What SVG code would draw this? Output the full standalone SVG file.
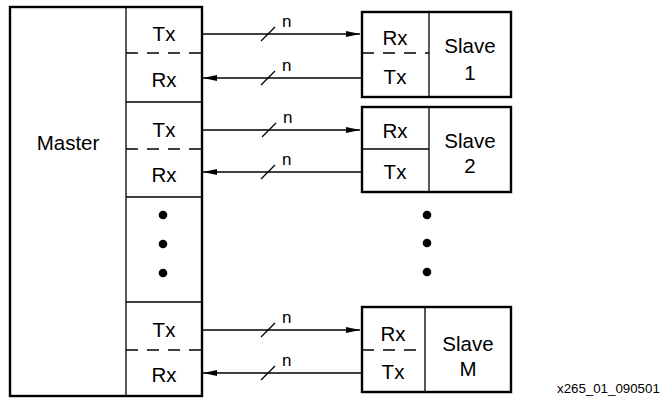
<svg xmlns="http://www.w3.org/2000/svg" width="660" height="398" viewBox="0 0 660 398">
<style>
.box{fill:#fff;stroke:#000;stroke-width:2.4}
.ln{stroke:#000;stroke-width:1.3;fill:none}
.dash{stroke:#000;stroke-width:1.3;stroke-dasharray:12 9;fill:none}
.conn{stroke:#000;stroke-width:1.3;fill:none}
text{font-family:"Liberation Sans",Arial,sans-serif;font-size:20.5px;fill:#000;text-anchor:middle}
.n{font-size:17px;text-anchor:start}
.cap{font-size:13.3px;text-anchor:start}
</style>
<defs>
<marker id="ah" viewBox="0 0 14 6" refX="14" refY="3" markerWidth="14" markerHeight="6" markerUnits="userSpaceOnUse" orient="auto">
<path d="M0,0 L14,3 L0,6 Z" fill="#000"/>
</marker>
</defs>
<g id="master">
<rect class="box" x="10" y="7" width="192" height="389"/>
<line class="ln" x1="126" y1="7" x2="126" y2="396"/>
<line class="dash" x1="126" y1="53" x2="202" y2="53"/>
<line class="ln" x1="126" y1="102" x2="202" y2="102"/>
<line class="dash" x1="126" y1="149" x2="202" y2="149"/>
<line class="ln" x1="126" y1="197" x2="202" y2="197"/>
<line class="ln" x1="126" y1="302" x2="202" y2="302"/>
<line class="dash" x1="126" y1="350" x2="202" y2="350"/>
<text x="68" y="149.5">Master</text>
<text x="164" y="40.5">Tx</text>
<text x="164" y="86.5">Rx</text>
<text x="164" y="136.5">Tx</text>
<text x="164" y="181.5">Rx</text>
<text x="164" y="336.5">Tx</text>
<text x="164" y="381.5">Rx</text>
<circle cx="163" cy="215" r="4.3"/>
<circle cx="163" cy="244" r="4.3"/>
<circle cx="163" cy="273" r="4.3"/>
</g>
<g id="slave1">
<rect class="box" x="362" y="12" width="149" height="85"/>
<line class="ln" x1="429" y1="12" x2="429" y2="97"/>
<line class="dash" x1="362" y1="53" x2="429" y2="53"/>
<text x="395" y="44.5">Rx</text>
<text x="395" y="83.5">Tx</text>
<text x="470" y="52.5">Slave</text>
<text x="470" y="79.5">1</text>
</g>
<g id="slave2">
<rect class="box" x="362" y="107" width="149" height="85"/>
<line class="ln" x1="429" y1="107" x2="429" y2="192"/>
<line class="ln" x1="362" y1="149" x2="429" y2="149"/>
<text x="395" y="137.5">Rx</text>
<text x="395" y="178.5">Tx</text>
<text x="470" y="147.5">Slave</text>
<text x="470" y="172.5">2</text>
</g>
<g id="dots">
<circle cx="427" cy="215" r="4.3"/>
<circle cx="427" cy="243" r="4.3"/>
<circle cx="427" cy="272" r="4.3"/>
</g>
<g id="slaveM">
<rect class="box" x="362" y="307" width="149" height="85"/>
<line class="ln" x1="425" y1="307" x2="425" y2="392"/>
<line class="dash" x1="362" y1="350" x2="425" y2="350"/>
<text x="393" y="340.5">Rx</text>
<text x="393" y="378.5">Tx</text>
<text x="468" y="350.5">Slave</text>
<text x="468" y="375.5">M</text>
</g>
<g id="connectors">
<line class="conn" x1="202" y1="34" x2="360" y2="34" marker-end="url(#ah)"/>
<line class="conn" x1="362" y1="78" x2="203" y2="78" marker-end="url(#ah)"/>
<line class="conn" x1="202" y1="130" x2="360" y2="130" marker-end="url(#ah)"/>
<line class="conn" x1="362" y1="172" x2="203" y2="172" marker-end="url(#ah)"/>
<line class="conn" x1="202" y1="330" x2="360" y2="330" marker-end="url(#ah)"/>
<line class="conn" x1="362" y1="373" x2="203" y2="373" marker-end="url(#ah)"/>
<line class="conn" x1="261" y1="41" x2="275" y2="27"/>
<line class="conn" x1="261" y1="85" x2="275" y2="71"/>
<line class="conn" x1="262" y1="137" x2="276" y2="123"/>
<line class="conn" x1="261" y1="179" x2="275" y2="165"/>
<line class="conn" x1="261" y1="337" x2="275" y2="323"/>
<line class="conn" x1="261" y1="380" x2="275" y2="366"/>
<text class="n" x="282" y="27">n</text>
<text class="n" x="282" y="71">n</text>
<text class="n" x="283" y="123">n</text>
<text class="n" x="282" y="165">n</text>
<text class="n" x="282" y="323">n</text>
<text class="n" x="282" y="366">n</text>
</g>
<text class="cap" x="557" y="393">x265_01_090501</text>
</svg>
